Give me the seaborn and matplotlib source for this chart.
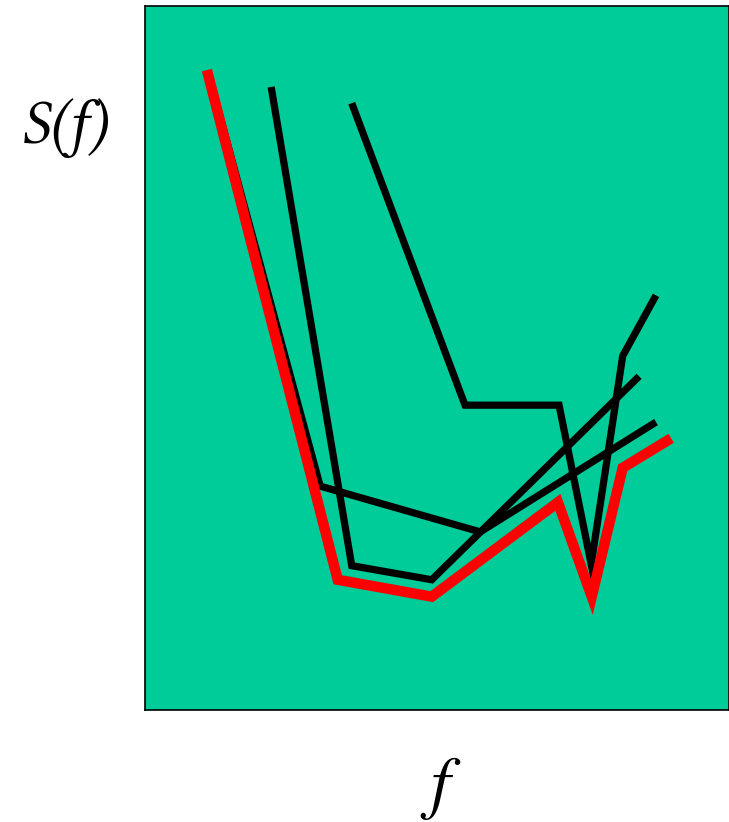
import matplotlib
matplotlib.use("Agg")
import matplotlib.pyplot as plt
import seaborn as sns
import pandas as pd

# Data (arbitrary units: f from 0-100, S from 0-100)
red_f = [10.6, 33.0, 49.1, 70.7, 76.5, 81.8, 90.1]
red_s = [90.9, 18.5, 16.1, 29.5, 16.1, 34.4, 38.6]

b1_f = [10.8, 30.0, 57.4, 87.5]
b1_s = [90.6, 31.8, 25.3, 40.9]

b2_f = [21.6, 35.4, 49.1, 84.6]
b2_s = [88.5, 20.5, 18.5, 47.4]

b3_f = [35.4, 54.8, 70.9, 76.4, 81.8, 87.5]
b3_s = [86.2, 43.3, 43.3, 20.7, 50.3, 58.9]

sns.set_style("white")
plt.rcParams['font.family'] = ['FreeSerif', 'Liberation Serif', 'DejaVu Serif']

fig = plt.figure(figsize=(7.29, 8.22), dpi=100)
ax = fig.add_axes([145/729, 1 - 710/822, (729 - 145)/729, (710 - 6)/822])
ax.set_facecolor("#00CC99")

for fs, ss in [(b1_f, b1_s), (b2_f, b2_s), (b3_f, b3_s)]:
    df = pd.DataFrame({"f": fs, "S": ss})
    sns.lineplot(data=df, x="f", y="S", sort=False, color="black",
                 linewidth=5.2, ax=ax, solid_capstyle="butt", solid_joinstyle="miter")

df = pd.DataFrame({"f": red_f, "S": red_s})
sns.lineplot(data=df, x="f", y="S", sort=False, color="#FF0000",
             linewidth=7.5, ax=ax, solid_capstyle="butt", solid_joinstyle="miter")

ax.set_xlim(0, 100)
ax.set_ylim(0, 100)
ax.set_xticks([])
ax.set_yticks([])
ax.set_xlabel("")
ax.set_ylabel("")
for sp in ax.spines.values():
    sp.set_color("black")
    sp.set_linewidth(1.2)

fig.text(64/729, 1 - 143/822, "S(f)", fontsize=45, style="italic",
         family=["Libertinus Serif", "FreeSerif"],
         color="black", ha="center", va="baseline")
fig.text(440/729, 1 - 806/822, "f", fontsize=50, style="italic",
         color="black", ha="center", va="baseline")

fig.savefig("out.png", dpi=100)
